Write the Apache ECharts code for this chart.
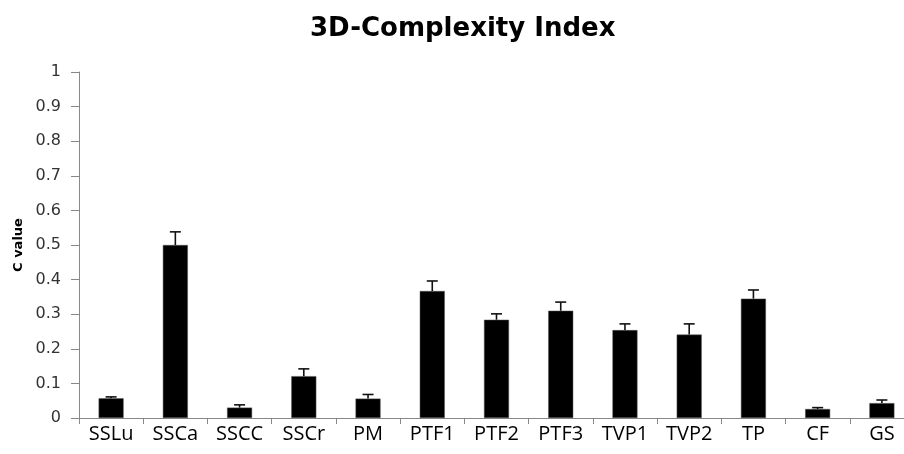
<!DOCTYPE html>
<html>
<head>
<meta charset="utf-8">
<script src="https://cdn.jsdelivr.net/npm/echarts@6/dist/echarts.min.js"></script>
<style>html,body{margin:0;padding:0;background:#fff}#c{width:904px;height:454px}</style>
</head>
<body>
<div id="c"></div>
<script>
const categories = ['SSLu','SSCa','SSCC','SSCr','PM','PTF1','PTF2','PTF3','TVP1','TVP2','TP','CF','GS'];
const cValues = [0.057, 0.500, 0.030, 0.121, 0.056, 0.367, 0.284, 0.310, 0.254, 0.241, 0.345, 0.026, 0.043];
const errors  = [0.004, 0.038, 0.008, 0.021, 0.012, 0.029, 0.017, 0.025, 0.018, 0.031, 0.025, 0.004, 0.009];
const yTicks = { min: 0, max: 1, interval: 0.1 };

const chart = echarts.init(document.getElementById('c'));
const errData = categories.map((c, i) => [i, cValues[i], cValues[i] + errors[i]]);

chart.setOption({
  animation: false,
  backgroundColor: '#fff',
  title: {
    text: '3D-Complexity Index',
    left: 305, top: 11,
    textStyle: { fontFamily: 'DejaVu Sans', fontWeight: 'bold', fontSize: 26, color: '#000' }
  },
  grid: { left: 79, right: -10, top: 72, bottom: 36, outerBoundsMode: 'none' },
  xAxis: {
    type: 'category',
    data: categories,
    axisLine: { lineStyle: { color: '#888', width: 1 } },
    axisTick: { show: true, length: 6, lineStyle: { color: '#888' } },
    axisLabel: { fontFamily: 'Open Sans', fontSize: 20, color: '#000', margin: 6, interval: 0 }
  },
  yAxis: {
    type: 'value',
    min: yTicks.min, max: yTicks.max, interval: yTicks.interval,
    name: 'C value',
    nameLocation: 'middle',
    nameRotate: 90,
    nameGap: 53,
    nameTextStyle: { fontFamily: 'DejaVu Sans', fontWeight: 'bold', fontSize: 13, color: '#000' },
    axisLine: { show: true, lineStyle: { color: '#888', width: 1 } },
    axisTick: { show: true, length: 8, lineStyle: { color: '#888' } },
    splitLine: { show: false },
    axisLabel: {
      fontFamily: 'DejaVu Sans', fontSize: 16, color: '#333', margin: 18,
      formatter: v => (Math.round(v * 10) / 10).toString()
    }
  },
  series: [
    {
      type: 'bar',
      data: cValues,
      barWidth: 25,
      itemStyle: { color: '#000', borderColor: '#555', borderWidth: 0.5 },
      z: 2
    },
    {
      type: 'custom',
      data: errData,
      encode: { x: 0, y: [1, 2] },
      z: 3,
      renderItem: function (params, api) {
        const i = api.value(0);
        const p0 = api.coord([i, api.value(1)]);
        const p1 = api.coord([i, api.value(2)]);
        const hw = 5.5;
        const style = { stroke: '#111', lineWidth: 1.6 };
        return {
          type: 'group',
          children: [
            { type: 'line', shape: { x1: p0[0], y1: p0[1], x2: p1[0], y2: p1[1] }, style: style },
            { type: 'line', shape: { x1: p1[0] - hw, y1: p1[1], x2: p1[0] + hw, y2: p1[1] }, style: style }
          ]
        };
      }
    }
  ]
});
</script>
</body>
</html>
